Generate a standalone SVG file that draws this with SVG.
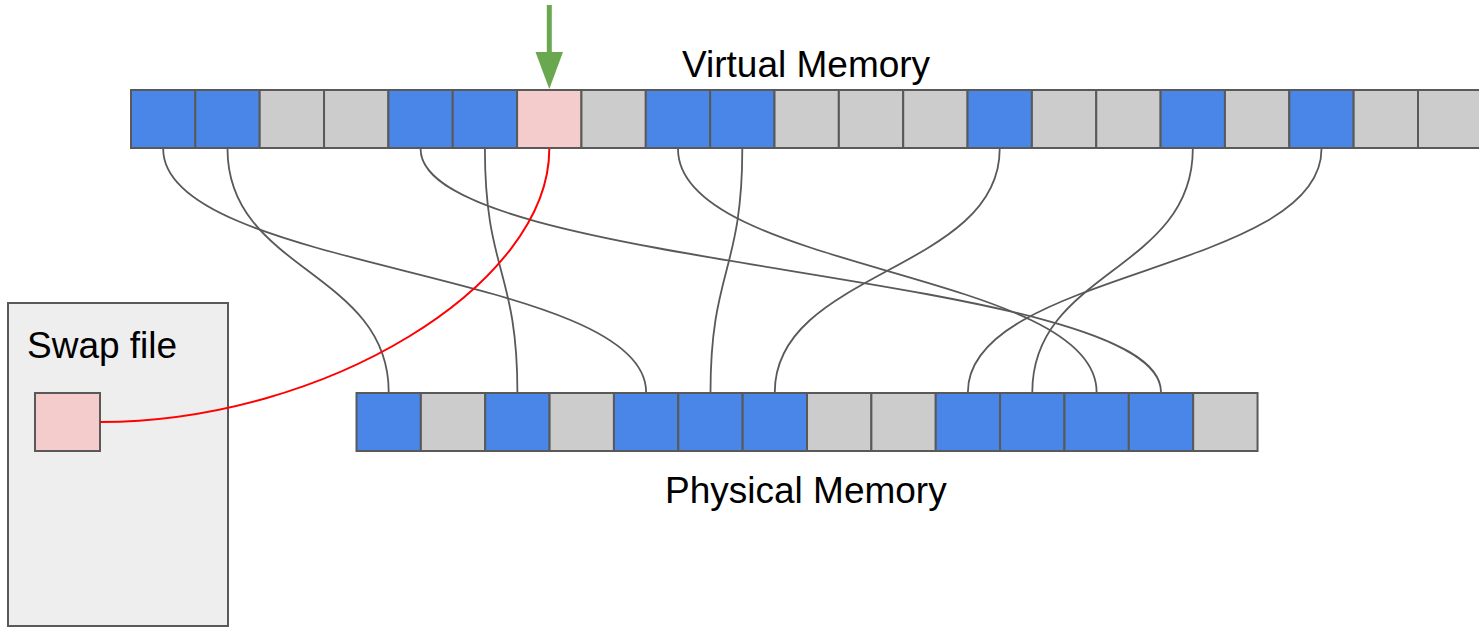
<svg xmlns="http://www.w3.org/2000/svg" width="1479" height="627" viewBox="0 0 1479 627">
<style>
.b{fill:#4a86e8;stroke:#595959;stroke-width:2}
.g{fill:#cccccc;stroke:#595959;stroke-width:2}
.p{fill:#f4cccc;stroke:#595959;stroke-width:2}
.c{fill:none;stroke:#595959;stroke-width:1.8}
.r{fill:none;stroke:#ff0000;stroke-width:2}
.t{font-family:"Liberation Sans",Arial,sans-serif;font-size:37px;fill:#000}
</style>
<rect width="1479" height="627" fill="#fff"/>
<g id="swap">
<rect x="8" y="303" width="220" height="323" fill="#eeeeee" stroke="#595959" stroke-width="2"/>
<text class="t" x="27" y="358">Swap file</text>
<rect class="p" x="35" y="393" width="65" height="58"/>
</g>
<g id="virtual">
<rect class="b" x="131" y="90" width="64.35" height="58"/>
<rect class="b" x="195.35" y="90" width="64.35" height="58"/>
<rect class="g" x="259.7" y="90" width="64.35" height="58"/>
<rect class="g" x="324.05" y="90" width="64.35" height="58"/>
<rect class="b" x="388.4" y="90" width="64.35" height="58"/>
<rect class="b" x="452.75" y="90" width="64.35" height="58"/>
<rect class="p" x="517.1" y="90" width="64.35" height="58"/>
<rect class="g" x="581.45" y="90" width="64.35" height="58"/>
<rect class="b" x="645.8" y="90" width="64.35" height="58"/>
<rect class="b" x="710.15" y="90" width="64.35" height="58"/>
<rect class="g" x="774.5" y="90" width="64.35" height="58"/>
<rect class="g" x="838.85" y="90" width="64.35" height="58"/>
<rect class="g" x="903.2" y="90" width="64.35" height="58"/>
<rect class="b" x="967.55" y="90" width="64.35" height="58"/>
<rect class="g" x="1031.9" y="90" width="64.35" height="58"/>
<rect class="g" x="1096.25" y="90" width="64.35" height="58"/>
<rect class="b" x="1160.6" y="90" width="64.35" height="58"/>
<rect class="g" x="1224.95" y="90" width="64.35" height="58"/>
<rect class="b" x="1289.3" y="90" width="64.35" height="58"/>
<rect class="g" x="1353.65" y="90" width="64.35" height="58"/>
<rect class="g" x="1418" y="90" width="64.35" height="58"/>
<text class="t" x="682" y="77">Virtual Memory</text>
</g>
<g id="physical">
<rect class="b" x="356.5" y="393" width="64.36" height="58"/>
<rect class="g" x="420.86" y="393" width="64.36" height="58"/>
<rect class="b" x="485.22" y="393" width="64.36" height="58"/>
<rect class="g" x="549.58" y="393" width="64.36" height="58"/>
<rect class="b" x="613.94" y="393" width="64.36" height="58"/>
<rect class="b" x="678.3" y="393" width="64.36" height="58"/>
<rect class="b" x="742.66" y="393" width="64.36" height="58"/>
<rect class="g" x="807.02" y="393" width="64.36" height="58"/>
<rect class="g" x="871.38" y="393" width="64.36" height="58"/>
<rect class="b" x="935.74" y="393" width="64.36" height="58"/>
<rect class="b" x="1000.1" y="393" width="64.36" height="58"/>
<rect class="b" x="1064.46" y="393" width="64.36" height="58"/>
<rect class="b" x="1128.82" y="393" width="64.36" height="58"/>
<rect class="g" x="1193.18" y="393" width="64.36" height="58"/>
<text class="t" x="665" y="503">Physical Memory</text>
</g>
<g id="connectors">
<path class="c" d="M163.2 149 C163.2 271 646.1 271 646.1 392"/>
<path class="c" d="M227.5 149 C227.5 271 388.7 271 388.7 392"/>
<path class="c" d="M420.6 149 C420.6 271 1161 271 1161 392"/>
<path class="c" d="M484.9 149 C484.9 271 517.4 271 517.4 392"/>
<path class="c" d="M678 149 C678 271 1096.6 271 1096.6 392"/>
<path class="c" d="M742.3 149 C742.3 271 710.5 271 710.5 392"/>
<path class="c" d="M999.7 149 C999.7 271 774.8 271 774.8 392"/>
<path class="c" d="M1192.8 149 C1192.8 271 1032.3 271 1032.3 392"/>
<path class="c" d="M1321.5 149 C1321.5 271 967.9 271 967.9 392"/>
<path class="r" d="M549.3 149 C549.3 285 325 422 100 422"/>
<path d="M549.3 5 V55" stroke="#6aa84f" stroke-width="5" fill="none"/>
<path d="M535.5 52 L563 52 L549.3 89 Z" fill="#6aa84f"/>
</g>
</svg>
